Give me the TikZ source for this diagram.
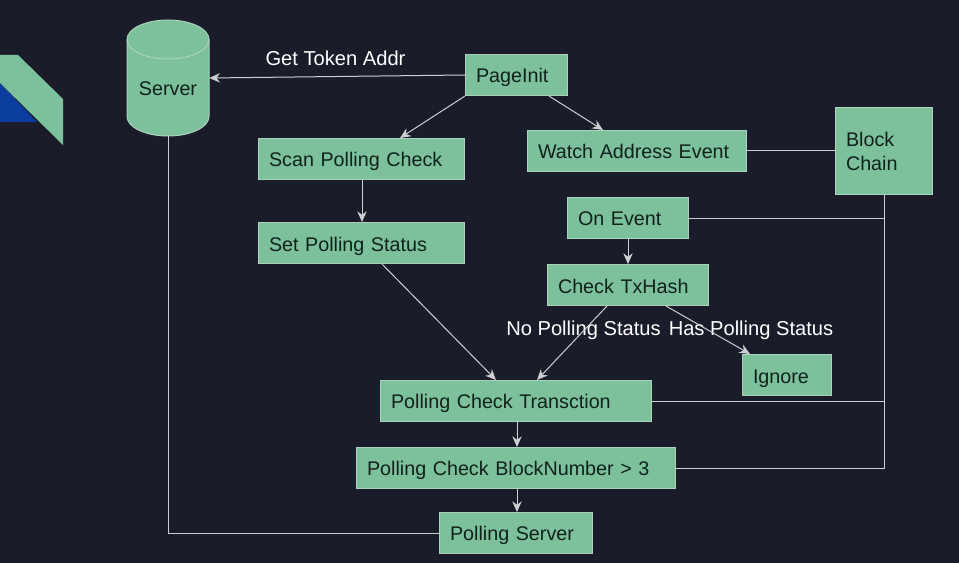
\documentclass[tikz,border=0pt]{standalone}
\usepackage{fontspec}
\setmainfont{Liberation Sans}
\usetikzlibrary{calc,arrows.meta}
\definecolor{bgc}{HTML}{1A1D29}
\definecolor{boxc}{HTML}{7DC19C}
\definecolor{edgec}{HTML}{A9D3BC}
\definecolor{linec}{HTML}{CFCFD3}
\definecolor{inkc}{HTML}{10211B}
\definecolor{logoblue}{HTML}{0A3D9E}
\tikzset{
  px/.style={x=0.75pt,y=-0.75pt},
  stepbox/.style={draw=edgec,line width=0.75pt,fill=boxc,text=inkc,font=\fontsize{14.8pt}{18pt}\selectfont,inner sep=0pt,align=left,anchor=center},
  lbl/.style={text=white,font=\fontsize{15.1pt}{18pt}\selectfont,inner sep=0pt},
  conn/.style={draw=linec,line width=0.75pt},
  arr/.style={conn,-{Stealth[length=8pt,width=7pt]}}
}
\newcommand{\stepnode}[7]{% name, x0, y0, x1, y1, drop in pt, text
  \pgfmathsetmacro{\cx}{(#2+#4)/2}\pgfmathsetmacro{\cy}{(#3+#5)/2}
  \pgfmathsetmacro{\wpt}{(#4-#2-1)*0.75}\pgfmathsetmacro{\hpt}{(#5-#3-1)*0.75}
  \pgfmathsetmacro{\tpt}{(#4-#2-22)*0.75}
  \node[stepbox,minimum width=\wpt pt,minimum height=\hpt pt,text width=\tpt pt] (#1) at (\cx,\cy) {\raisebox{-#6pt}[0.72em][0.21em]{#7}};
}
\begin{document}
\begin{tikzpicture}[px]
\useasboundingbox (0,0) rectangle (959,563);
\fill[bgc] (0,0) rectangle (959,563);
% logo fragment
\fill[logoblue] (0,83) -- (37,122) -- (0,122) -- cycle;
\fill[boxc] (0,55) -- (18,55) -- (63,99) -- (63,145) -- (0,83) -- cycle;
% cylinder
\path[fill=boxc,draw=edgec,line width=0.75pt] (127,39.5) arc[x radius=41,y radius=19.5,start angle=180,end angle=360] -- (209,116.5) arc[x radius=41,y radius=19.5,start angle=0,end angle=180] -- cycle;
\draw[edgec,line width=0.75pt] (127,39.5) arc[x radius=41,y radius=19.5,start angle=180,end angle=0];
\node[minimum width=61.5pt,minimum height=87pt,inner sep=0pt] (server) at (168,78) {};
\node[text=inkc,font=\fontsize{14.8pt}{18pt}\selectfont,inner sep=0pt] (servertext) at (168,88.5) {Server};
% boxes
\stepnode{pageinit}{465}{54}{568}{96}{2}{PageInit}
\stepnode{scan}{258}{138}{465}{180}{2}{Scan Polling Check}
\stepnode{watch}{527}{130}{747}{172}{1.8}{Watch Address Event}
\node[stepbox,minimum width=73pt,minimum height=65.25pt,text width=57pt] (chain) at (884,151) {Block\\Chain};
\stepnode{setp}{258}{222}{465}{264}{2.4}{Set Polling Status}
\stepnode{onev}{567}{197}{689}{239}{1.8}{On Event}
\stepnode{check}{547}{264}{709}{306}{2.4}{Check TxHash}
\stepnode{ignore}{742}{354}{832}{396}{2.5}{Ignore}
\stepnode{trans}{380}{380}{652}{422}{2.2}{Polling Check Transction}
\stepnode{bnum}{356}{447}{676}{489}{2.1}{Polling Check BlockNumber > 3}
\stepnode{pserver}{439}{512}{593}{554}{2.1}{Polling Server}
% labels
\node[lbl] (gettoken) at (335.5,58.5) {Get Token Addr};
\node[lbl] (nops) at (583.5,330) {No Polling Status};
\node[lbl] (haps) at (751,330) {Has Polling Status};
% connectors
\draw[arr] (pageinit.west) -- (server.east);
\draw[arr] (pageinit.south west) -- ($(scan.north west)+(142,0)$);
\draw[arr] ($(pageinit.south west)+(84,0)$) -- ($(watch.north west)+(76,0)$);
\draw[arr] ($(scan.south west)+(104,0)$) -- ($(setp.north west)+(104,0)$);
\draw[conn] (watch.east) -- (watch.east -| chain.west);
\draw[arr] ($(onev.south west)+(61,0)$) -- ($(check.north west)+(81,0)$);
\draw[arr] ($(setp.south west)+(124,0)$) -- ($(trans.north west)+(116,0)$);
\draw[arr] ($(check.south west)+(60,0)$) -- ($(trans.north west)+(157,0)$);
\draw[arr] ($(check.south west)+(119,0)$) -- ($(ignore.north west)+(8,0)$);
\draw[arr] ($(trans.south west)+(137,0)$) -- ($(bnum.north west)+(161,0)$);
\draw[arr] ($(bnum.south west)+(161,0)$) -- ($(pserver.north west)+(78,0)$);
\coordinate (trunk) at ($(chain.south west)+(50,0)$);
\draw[conn] (trunk) |- (bnum.east);
\draw[conn] (onev.east) -- (onev.east -| trunk);
\draw[conn] (trans.east) -- (trans.east -| trunk);
\draw[conn] (server.south) |- (pserver.west);
\end{tikzpicture}
\end{document}
